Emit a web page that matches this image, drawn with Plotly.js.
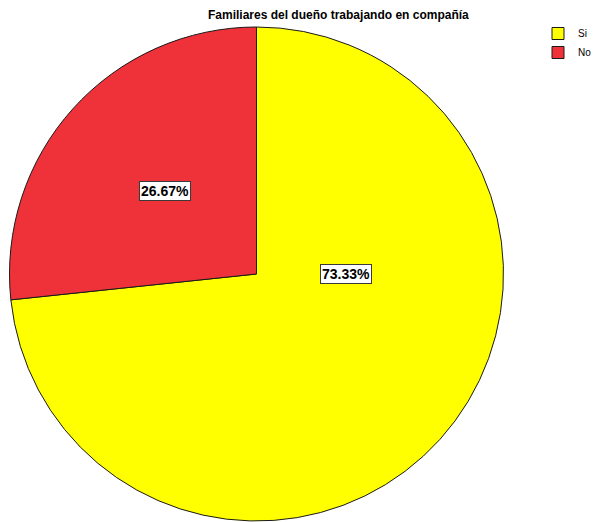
<!DOCTYPE html>
<html>
<head>
<meta charset="utf-8">
<script src="https://cdn.plot.ly/plotly-3.0.1.min.js"></script>
<style>html,body{margin:0;padding:0;background:#fff;}#chart{width:595px;height:522px;}</style>
</head>
<body>
<div id="chart"></div>
<script>
const categories = ["Si", "No"];
const values = [73.33, 26.67];
const colors = ["#FFFF00", "#EF323A"];
const titleText = "Familiares del dueño trabajando en compañía";

// label anchor positions (layout only)
const labelPos = [{x: 346/595, y: 1 - 274/522}, {x: 165/595, y: 1 - 191/522}];

const total = values.reduce((a, b) => a + b, 0);
const annotations = values.map((v, i) => ({
  xref: "paper", yref: "paper",
  x: labelPos[i].x, y: labelPos[i].y,
  xanchor: "center", yanchor: "middle",
  text: "<b>" + (v / total * 100).toFixed(2) + "%</b>",
  showarrow: false,
  bgcolor: "#FFFFFF",
  bordercolor: "#3a3a3a",
  borderwidth: 1,
  borderpad: 1,
  font: {family: "Liberation Sans, Arial, sans-serif", size: 14, color: "#000"}
}));
annotations.push({
  xref: "paper", yref: "paper", x: 338/595, y: 1 - 15/522,
  xanchor: "center", yanchor: "middle", showarrow: false,
  text: "<b>" + titleText + "</b>",
  font: {family: "Liberation Sans, Arial, sans-serif", size: 12, color: "#000"}
});

const trace = {
  type: "pie",
  labels: categories,
  values: values,
  sort: false,
  direction: "clockwise",
  rotation: 0,
  textinfo: "none",
  hoverinfo: "label+percent",
  marker: {colors: colors, line: {color: "#1a1a1a", width: 1}},
  domain: {x: [8/595, 505/595], y: [1/522, 495/522]}
};

const layout = {
  width: 595, height: 522,
  margin: {l: 0, r: 0, t: 0, b: 0, autoexpand: false},
  paper_bgcolor: "#FFFFFF",
  showlegend: true,
  legend: {
    x: 538/595, y: 1 - 19/522, xanchor: "left", yanchor: "top",
    font: {family: "Liberation Sans, Arial, sans-serif", size: 10, color: "#000"},
    tracegroupgap: 0, itemwidth: 30, bgcolor: "rgba(0,0,0,0)"
  },
  annotations: annotations
};

Plotly.newPlot("chart", [trace], layout, {displayModeBar: false, staticPlot: true});
</script>
</body>
</html>
